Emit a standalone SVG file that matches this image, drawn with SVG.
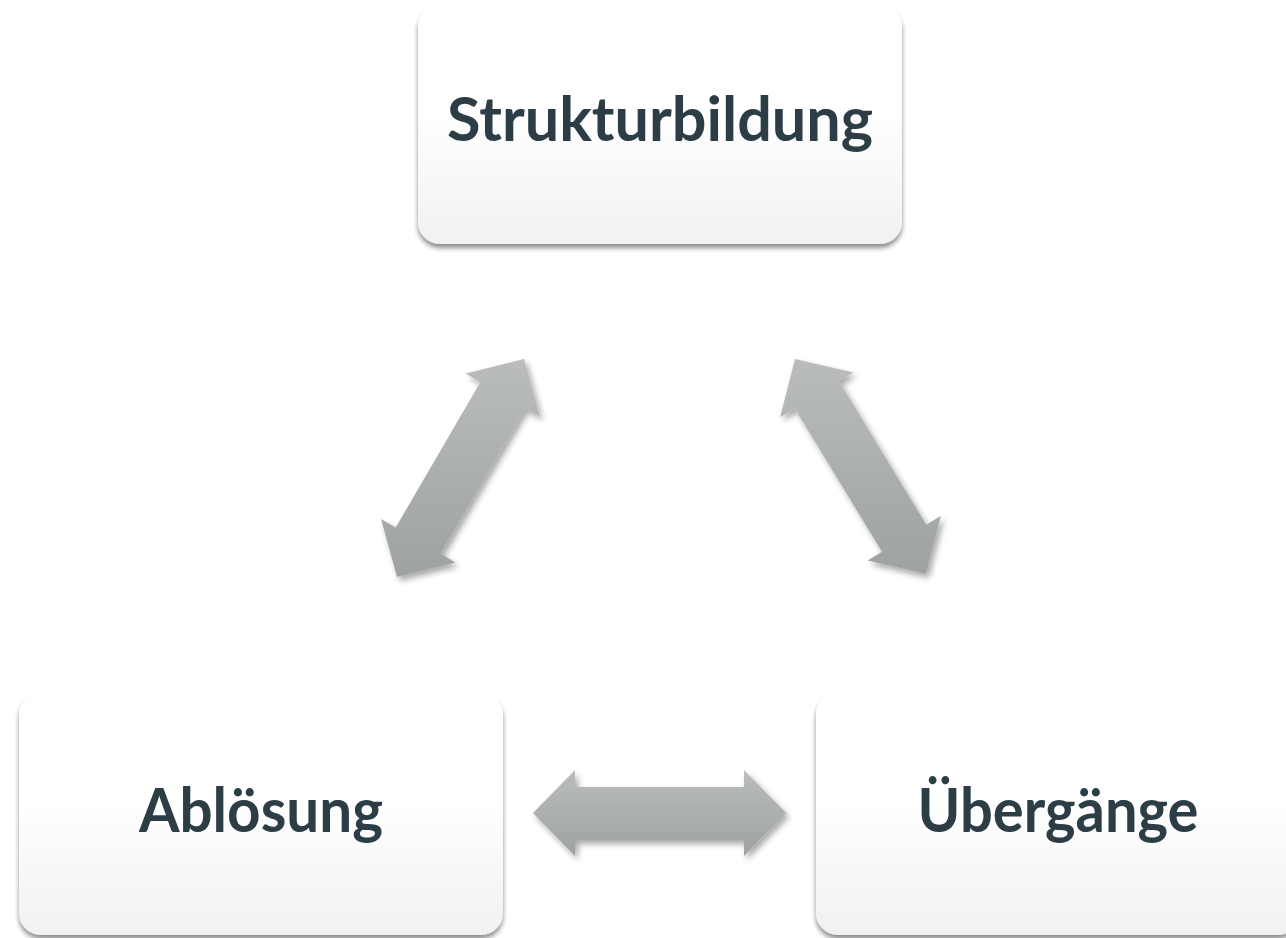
<svg xmlns="http://www.w3.org/2000/svg" width="1286" height="938" viewBox="0 0 1286 938">
  <defs>
    <linearGradient id="boxFill" x1="0" y1="0" x2="0" y2="1">
      <stop offset="0" stop-color="#ffffff"/>
      <stop offset="0.45" stop-color="#ffffff"/>
      <stop offset="1" stop-color="#f1f1f1"/>
    </linearGradient>
    <linearGradient id="arrowFill" x1="0" y1="0" x2="0" y2="1">
      <stop offset="0" stop-color="#babcbd"/>
      <stop offset="1" stop-color="#9ea2a3"/>
    </linearGradient>
    <filter id="boxShadow" x="-10%" y="-10%" width="120%" height="125%">
      <feGaussianBlur in="SourceAlpha" stdDeviation="2.5"/>
      <feOffset dx="0" dy="4" result="b"/>
      <feComponentTransfer><feFuncA type="linear" slope="0.45"/></feComponentTransfer>
      <feMerge><feMergeNode/><feMergeNode in="SourceGraphic"/></feMerge>
    </filter>
    <filter id="arrowShadow" x="-20%" y="-20%" width="140%" height="140%">
      <feGaussianBlur in="SourceAlpha" stdDeviation="3"/>
      <feOffset dx="3" dy="4" result="b"/>
      <feComponentTransfer><feFuncA type="linear" slope="0.35"/></feComponentTransfer>
      <feMerge><feMergeNode/><feMergeNode in="SourceGraphic"/></feMerge>
    </filter>
  </defs>
  <style>
    .box { fill: url(#boxFill); filter: url(#boxShadow); }
    .label { font-family: Lato, "Open Sans", "DejaVu Sans", sans-serif; font-weight: bold; font-size: 61px; fill: #2c3d45; text-anchor: middle; }
    .arrow { fill: url(#arrowFill); filter: url(#arrowShadow); }
  </style>
  <rect width="1286" height="938" fill="#ffffff"/>

  <g id="node-strukturbildung">
    <rect class="box" x="418" y="5" width="484" height="239" rx="22" ry="22"/>
    <text class="label" x="660" y="141" textLength="426" lengthAdjust="spacingAndGlyphs">Strukturbildung</text>
  </g>

  <g id="node-abloesung">
    <rect class="box" x="19" y="693" width="484" height="242" rx="22" ry="22"/>
    <text class="label" x="261" y="832" textLength="244" lengthAdjust="spacingAndGlyphs">Ablösung</text>
  </g>

  <g id="node-uebergaenge">
    <rect class="box" x="816" y="693" width="484" height="242" rx="22" ry="22"/>
    <text class="label" x="1058" y="832" textLength="281" lengthAdjust="spacingAndGlyphs">Übergänge</text>
  </g>

  <g id="connectors">
    <polygon class="arrow" points="397,577 381,519 395.7,527.6 480.3,382.2 465.6,373.6 524,359 540,417 525.3,408.4 440.7,553.8 455.4,562.4"/>
    <polygon class="arrow" points="795,359 853.5,372.4 839,381.3 926.4,524.7 940.9,515.8 926,574 867.5,560.6 882,551.7 794.6,408.3 780.1,417.2"/>
    <polygon class="arrow" points="533,813 575,770 575,787 744,787 744,770 786,813 744,856 744,840 575,840 575,856"/>
  </g>
</svg>
